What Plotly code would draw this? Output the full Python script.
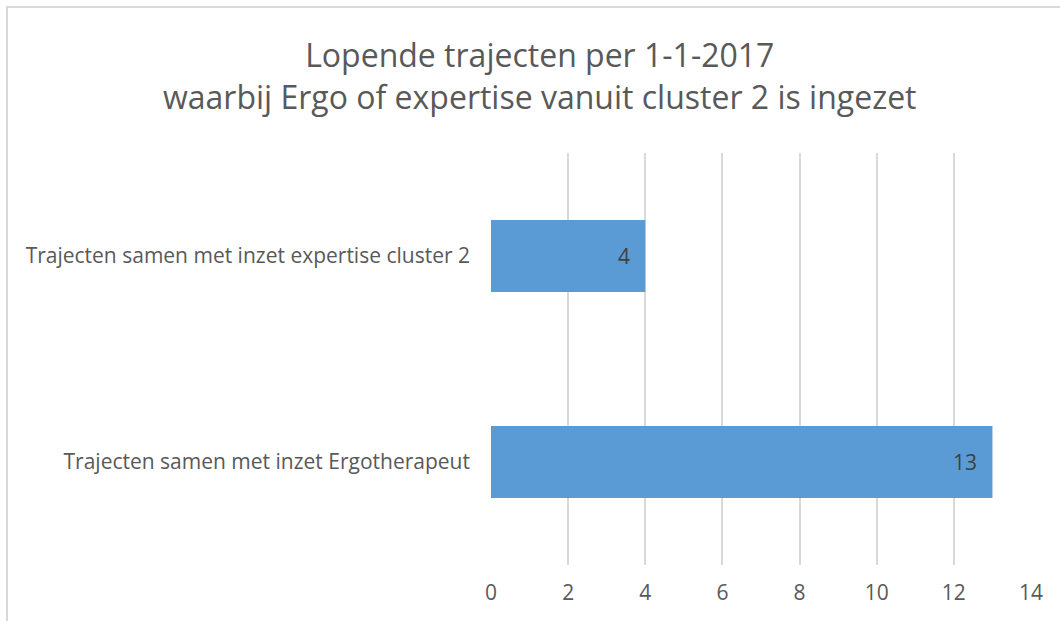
import plotly.graph_objects as go

categories = ["Trajecten samen met inzet Ergotherapeut",
              "Trajecten samen met inzet expertise cluster 2"]
values = [13, 4]
x_ticks = [0, 2, 4, 6, 8, 10, 12, 14]
title_lines = ["Lopende trajecten per 1-1-2017",
               "waarbij Ergo of expertise vanuit cluster 2 is ingezet"]

FONT = "Open Sans"
W, H = 1060, 621
L, R, T, B = 491, 29, 153, 56
PW, PH = W - L - R, H - T - B


def px_x(p):
    return (p - L) / PW


def px_y(p):
    return 1 + (T - p) / PH


fig = go.Figure(go.Bar(
    y=categories, x=values, orientation="h",
    marker=dict(color="#5B9BD5", line=dict(width=0)),
    width=0.35,
    hoverinfo="skip",
))

annotations = [dict(x=v, y=c, xref="x", yref="y", text=str(v),
                    showarrow=False, xanchor="right", yanchor="middle",
                    xshift=-13, font=dict(family=FONT, size=21, color="#404040"))
               for c, v in zip(categories, values)]
annotations.append(dict(
    x=px_x(540), y=px_y(76), xref="paper", yref="paper",
    text="<br>".join(title_lines), showarrow=False,
    xanchor="center", yanchor="middle", align="center",
    font=dict(family=FONT, size=32, color="#595959")))

fig.update_layout(
    width=W, height=H,
    margin=dict(l=L, r=R, t=T, b=B),
    paper_bgcolor="white", plot_bgcolor="white",
    showlegend=False,
    font=dict(family=FONT, color="#595959"),
    annotations=annotations,
    shapes=[dict(type="path", xref="paper", yref="paper",
                 path=f"M {px_x(7)} {px_y(640)} L {px_x(7)} {px_y(7)} L {px_x(1080)} {px_y(7)}",
                 line=dict(color="#D9D9D9", width=2))],
)
fig.update_xaxes(
    range=[0, 14], tickvals=x_ticks, ticktext=[str(t) for t in x_ticks],
    showgrid=True, gridcolor="#D9D9D9", gridwidth=1.5,
    zeroline=False, showline=False, ticks="",
    tickfont=dict(family=FONT, size=21, color="#595959"),
    ticklabelstandoff=13, fixedrange=True,
)
fig.update_yaxes(
    categoryorder="array", categoryarray=categories,
    range=[-0.5, 1.5], showgrid=False, zeroline=False, showline=False,
    ticks="", ticklabelstandoff=20,
    tickfont=dict(family=FONT, size=21, color="#595959"),
    fixedrange=True,
)
fig.write_html("out.html", config={"displayModeBar": False},
               post_script="document.body.style.margin='0';")
